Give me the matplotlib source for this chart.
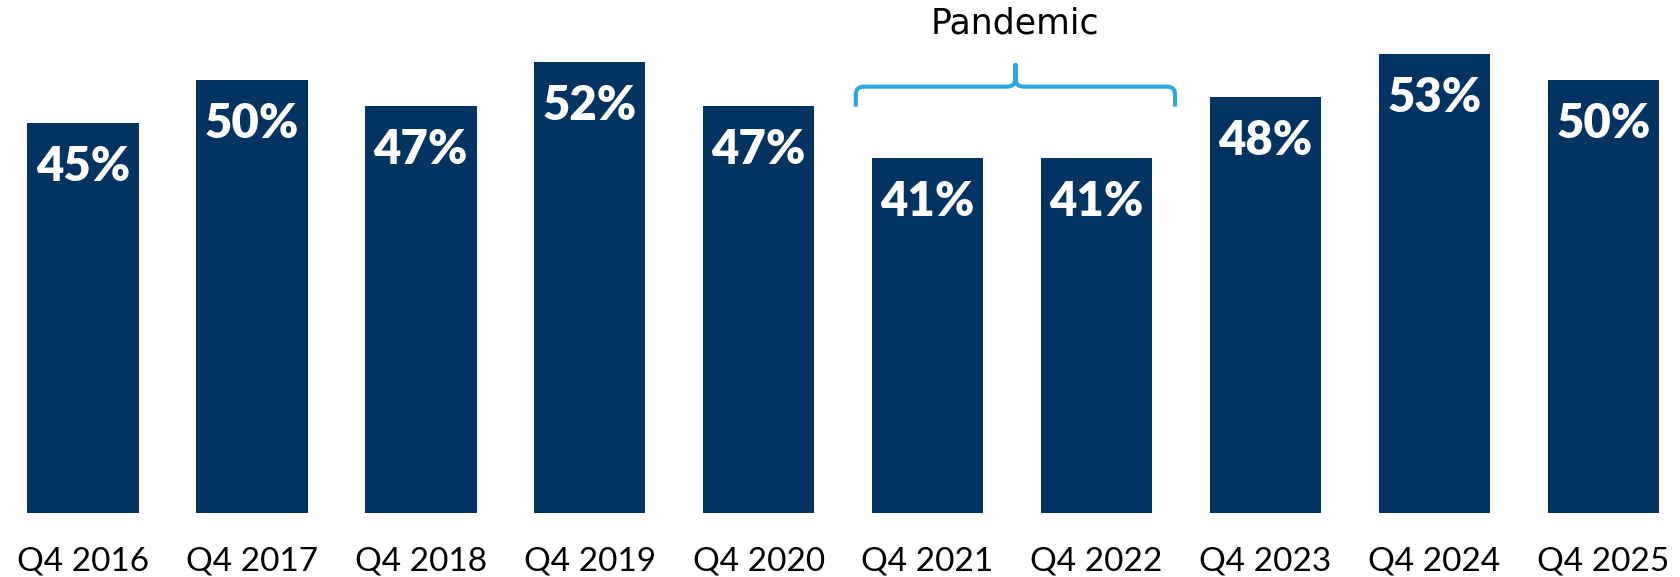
import matplotlib
matplotlib.use("Agg")
import matplotlib.pyplot as plt
from matplotlib.path import Path
from matplotlib.patches import PathPatch

# Data
quarters = ["Q4 2016", "Q4 2017", "Q4 2018", "Q4 2019", "Q4 2020",
            "Q4 2021", "Q4 2022", "Q4 2023", "Q4 2024", "Q4 2025"]
values = [45, 50, 47, 52, 47, 41, 41, 48, 53, 50]
pandemic = ["Q4 2021", "Q4 2022"]

bar_color = "#023361"
brace_color = "#2EA8DC"

plt.rcParams['font.family'] = ['Lato', 'DejaVu Sans']

fig = plt.figure(figsize=(16.81, 5.77), dpi=100)
ax = fig.add_axes([0, 0.111, 1, 0.889])

x = list(range(len(quarters)))
ax.bar(x, values, width=0.66, color=bar_color)

# value labels inside the bars
for xi, v in zip(x, values):
    ax.annotate(f"{v}%", (xi, v), xytext=(0, -44), textcoords="offset pixels",
                ha="center", va="center", color="white", fontsize=34,
                fontweight="heavy")

ax.set_xlim(-0.491, 9.46)
ax.set_ylim(0, 59.2)
ax.set_xticks(x)
ax.set_xticklabels(quarters, fontsize=24)
ax.tick_params(axis="x", length=0, pad=24)
ax.set_yticks([])
for s in ax.spines.values():
    s.set_visible(False)

# brace over the pandemic years
i0 = quarters.index(pandemic[0])
i1 = quarters.index(pandemic[-1])
left = i0 - 0.425
right = i1 + 0.465
mid = (left + right) / 2
y_low, y_line, y_peak = 46.9, 49.2, 51.7
r = 0.05
ry = 0.9
verts = [
    (left, y_low), (left, y_line - ry), (left, y_line), (left + r, y_line),
    (mid - r, y_line), (mid, y_line), (mid, y_line + ry), (mid, y_peak),
    (mid, y_line + ry), (mid, y_line), (mid + r, y_line),
    (right - r, y_line), (right, y_line), (right, y_line - ry), (right, y_low),
]
codes = [Path.MOVETO, Path.LINETO, Path.CURVE3, Path.CURVE3,
         Path.LINETO, Path.CURVE3, Path.CURVE3, Path.LINETO,
         Path.LINETO, Path.CURVE3, Path.CURVE3,
         Path.LINETO, Path.CURVE3, Path.CURVE3, Path.LINETO]
ax.add_patch(PathPatch(Path(verts, codes), fill=False, edgecolor=brace_color,
                       linewidth=3, capstyle="butt", joinstyle="round"))
ax.text(mid, 56.5, "Pandemic", ha="center", va="center", fontsize=25,
        color="black", family="DejaVu Sans")

fig.savefig("out.png", dpi=100)
